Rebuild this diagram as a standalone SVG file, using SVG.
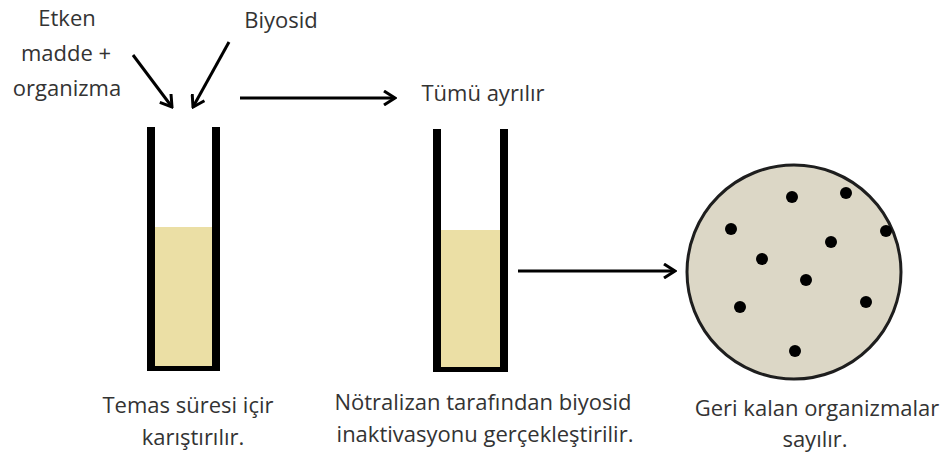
<svg xmlns="http://www.w3.org/2000/svg" width="952" height="459" viewBox="0 0 952 459">
<style>
  text { font-family: "Open Sans", "Noto Sans", "DejaVu Sans", sans-serif; font-size: 22px; fill: #333; text-anchor: middle; }
  .wall { stroke: #000; stroke-width: 8; fill: none; }
  .base { stroke: #000; stroke-width: 5; fill: none; }
  .liquid { fill: #ebdfa5; }
  .conn { stroke: #000; stroke-width: 3; fill: none; marker-end: url(#arrow); }
  .dot { fill: #000; }
</style>
<defs>
  <marker id="arrow" viewBox="0 0 14 16" refX="12" refY="8" markerWidth="14" markerHeight="16" markerUnits="userSpaceOnUse" orient="auto">
    <path d="M1,1 L12,8 L1,15" fill="none" stroke="#000" stroke-width="3"/>
  </marker>
</defs>
<rect width="952" height="459" fill="#fff"/>

<g id="label-etken">
  <text x="67" y="26">Etken</text>
  <text x="66" y="61">madde +</text>
  <text x="67" y="96">organizma</text>
</g>
<g id="label-biyosid">
  <text x="281" y="28">Biyosid</text>
</g>
<g id="label-tumu">
  <text x="483" y="101">Tümü ayrılır</text>
</g>

<g id="tube1">
  <rect class="liquid" x="154" y="227" width="58" height="141"/>
  <line class="wall" x1="151" y1="127" x2="151" y2="371"/>
  <line class="wall" x1="216" y1="127" x2="216" y2="371"/>
  <line class="base" x1="147" y1="368.5" x2="220" y2="368.5"/>
</g>
<g id="tube1-label">
  <text x="188" y="413">Temas süresi içir</text>
  <text x="193" y="445">karıştırılır.</text>
</g>

<g id="tube2">
  <rect class="liquid" x="441" y="230" width="59" height="138"/>
  <line class="wall" x1="437" y1="129" x2="437" y2="372"/>
  <line class="wall" x1="504" y1="129" x2="504" y2="372"/>
  <line class="base" x1="433" y1="369.5" x2="508" y2="369.5"/>
</g>
<g id="tube2-label">
  <text x="483" y="410">Nötralizan tarafından biyosid</text>
  <text x="485" y="442">inaktivasyonu gerçekleştirilir.</text>
</g>

<g id="petri">
  <circle cx="794" cy="272" r="107" fill="#dcd7c6" stroke="#1e1e1e" stroke-width="3"/>
  <circle class="dot" cx="792" cy="197" r="6"/>
  <circle class="dot" cx="846" cy="193" r="6"/>
  <circle class="dot" cx="731" cy="229" r="6"/>
  <circle class="dot" cx="886" cy="231" r="6"/>
  <circle class="dot" cx="831" cy="242" r="6"/>
  <circle class="dot" cx="762" cy="259" r="6"/>
  <circle class="dot" cx="806" cy="280" r="6"/>
  <circle class="dot" cx="740" cy="307" r="6"/>
  <circle class="dot" cx="866" cy="302" r="6"/>
  <circle class="dot" cx="795" cy="351" r="6"/>
</g>
<g id="petri-label">
  <text x="817" y="416">Geri kalan organizmalar</text>
  <text x="815" y="447">sayılır.</text>
</g>

<g id="connectors">
  <line class="conn" x1="133" y1="55" x2="172" y2="107"/>
  <line class="conn" x1="229" y1="42" x2="193" y2="107"/>
  <line class="conn" x1="240" y1="98" x2="395" y2="98"/>
  <line class="conn" x1="518" y1="271" x2="675" y2="271"/>
</g>
</svg>
